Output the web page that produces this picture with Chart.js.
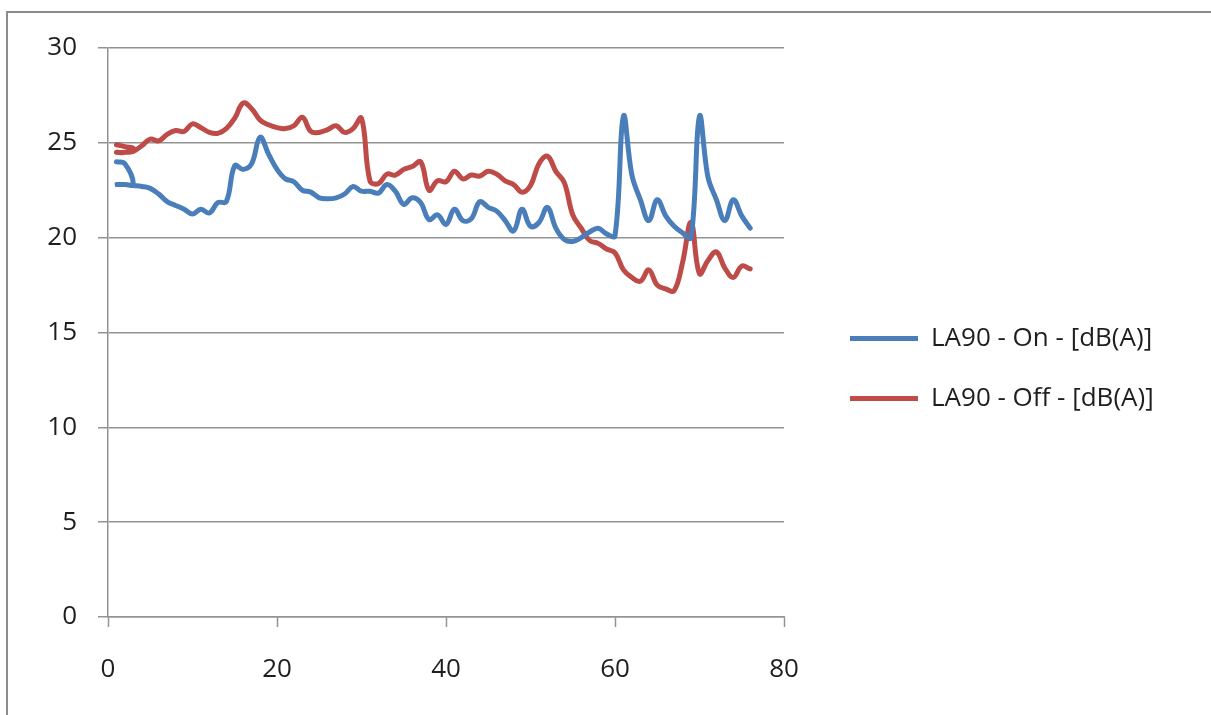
<!DOCTYPE html>
<html>
<head>
<meta charset="utf-8">
<title>LA90 On / Off</title>
<script src="https://cdn.jsdelivr.net/npm/chart.js@4"></script>
<style>
    html, body {
        margin: 0;
        padding: 0;
        background: #ffffff;
        overflow: hidden;
    }
    #frame {
        position: absolute;
        left: 6px;
        top: 11px;
        width: 1300px;
        height: 800px;
        border: 2px solid #8b8b8b;
    }
    #chart {
        position: absolute;
        left: 0;
        top: 0;
    }
</style>
</head>
<body>
<div id="frame"></div>
<canvas id="chart" width="1211" height="715"></canvas>
<script>
// sample index (the first few samples are logged twice, hence the back-and-forth)
const xOn = [1, 2, 3, 2, 1, 2, 3, 4, 5, 6, 7, 8, 9, 10,
    11, 12, 13, 14, 15, 16, 17, 18, 19, 20, 21, 22, 23, 24, 25, 26, 27, 28, 29, 30,
    31, 32, 33, 34, 35, 36, 37, 38, 39, 40, 41, 42, 43, 44, 45, 46, 47, 48, 49, 50,
    51, 52, 53, 54, 55, 56, 57, 58, 59, 60, 61, 62, 63, 64, 65, 66, 67, 68, 69, 70,
    71, 72, 73, 74, 75, 76];
const yOn = [24.0, 23.9, 22.8, 22.8, 22.8, 22.8, 22.75, 22.7, 22.6, 22.3, 21.9, 21.7, 21.5, 21.25,
    21.5, 21.3, 21.85, 21.9, 23.8, 23.6, 23.9, 25.3, 24.4, 23.6, 23.1, 22.95, 22.5, 22.4, 22.1, 22.05, 22.1, 22.3, 22.7, 22.45,
    22.45, 22.35, 22.8, 22.45, 21.75, 22.1, 21.85, 20.95, 21.2, 20.7, 21.5, 20.9, 21.0, 21.9, 21.6, 21.4, 20.9, 20.35, 21.5, 20.6,
    20.8, 21.6, 20.5, 19.9, 19.8, 20.0, 20.3, 20.5, 20.2, 20.1, 26.4, 23.3, 22.0, 20.9, 22.0, 21.15, 20.6, 20.25, 20.0, 26.4,
    23.2, 22.0, 20.9, 22.0, 21.15, 20.5];

const xOff = [1, 2, 3, 2, 1, 2, 3, 4, 5, 6, 7, 8, 9, 10,
    11, 12, 13, 14, 15, 16, 17, 18, 19, 20, 21, 22, 23, 24, 25, 26, 27, 28, 29, 30,
    31, 32, 33, 34, 35, 36, 37, 38, 39, 40, 41, 42, 43, 44, 45, 46, 47, 48, 49, 50,
    51, 52, 53, 54, 55, 56, 57, 58, 59, 60, 61, 62, 63, 64, 65, 66, 67, 68, 69, 70,
    71, 72, 73, 74, 75, 76];
const yOff = [24.9, 24.8, 24.7, 24.5, 24.5, 24.5, 24.55, 24.85, 25.2, 25.1, 25.45, 25.65, 25.6, 26.0,
    25.8, 25.55, 25.5, 25.75, 26.3, 27.1, 26.8, 26.2, 25.95, 25.8, 25.75, 25.9, 26.35, 25.6, 25.55, 25.7, 25.9, 25.55, 25.75, 26.3,
    23.0, 22.85, 23.35, 23.3, 23.6, 23.75, 24.0, 22.5, 23.0, 22.95, 23.5, 23.1, 23.3, 23.25, 23.5, 23.35, 23.0, 22.8, 22.4, 22.75,
    23.9, 24.3, 23.5, 22.9, 21.2, 20.5, 19.85, 19.7, 19.4, 19.2, 18.3, 17.9, 17.7, 18.3, 17.5, 17.3, 17.2, 18.7, 20.8, 18.1,
    18.8, 19.25, 18.4, 17.9, 18.5, 18.35];

const seriesNames = ['LA90 - On - [dB(A)]', 'LA90 - Off - [dB(A)]'];
const xTicks = [0, 20, 40, 60, 80];
const yTicks = [0, 5, 10, 15, 20, 25, 30];

const gridColor = '#939393';
const textColor = '#1e1e1e';

function toPoints(xs, ys) {
    return xs.map((x, i) => ({ x: x, y: ys[i] }));
}

// the legend sits a bit further right than Chart.js would put it,
// and may run to the canvas edge so the labels are not cut off
const legendOffset = {
    id: 'legendOffset',
    afterLayout(chart) {
        chart.legend.left += 32;
        chart.legend.right = chart.width;
        chart.legend.width = chart.legend.right - chart.legend.left;
    }
};

Chart.defaults.font.family = "'Open Sans', sans-serif";
Chart.defaults.color = textColor;

const ctx = document.getElementById('chart').getContext('2d');
new Chart(ctx, {
    type: 'line',
    data: {
        datasets: [{
            label: seriesNames[0],
            data: toPoints(xOn, yOn),
            borderColor: '#4a7ebb',
            backgroundColor: '#4a7ebb',
            borderWidth: 5,
            borderCapStyle: 'round',
            borderJoinStyle: 'round',
            pointRadius: 0,
            tension: 0.4
        }, {
            label: seriesNames[1],
            data: toPoints(xOff, yOff),
            borderColor: '#be4b48',
            backgroundColor: '#be4b48',
            borderWidth: 5,
            borderCapStyle: 'round',
            borderJoinStyle: 'round',
            pointRadius: 0,
            tension: 0.4
        }]
    },
    options: {
        responsive: false,
        animation: false,
        layout: {
            padding: { top: 48, right: 127, bottom: 26, left: 0 }
        },
        plugins: {
            legend: {
                position: 'right',
                align: 'center',
                maxWidth: 300,
                labels: {
                    usePointStyle: true,
                    pointStyle: 'line',
                    pointStyleWidth: 68,
                    padding: 34,
                    color: textColor,
                    font: { size: 26 }
                }
            },
            tooltip: { enabled: false }
        },
        scales: {
            x: {
                type: 'linear',
                min: xTicks[0],
                max: xTicks[xTicks.length - 1],
                afterFit(scale) {
                    scale.height = 72;
                },
                afterBuildTicks(scale) {
                    scale.ticks = xTicks.map(v => ({ value: v }));
                },
                grid: {
                    drawOnChartArea: false,
                    drawTicks: true,
                    tickLength: 10,
                    tickWidth: 1.5,
                    tickColor: gridColor
                },
                border: { display: true, color: gridColor, width: 1.5 },
                ticks: {
                    padding: 27,
                    color: textColor,
                    font: { size: 26 }
                }
            },
            y: {
                type: 'linear',
                min: yTicks[0],
                max: yTicks[yTicks.length - 1],
                afterFit(scale) {
                    scale.width = 108;
                },
                afterBuildTicks(scale) {
                    scale.ticks = yTicks.map(v => ({ value: v }));
                },
                grid: {
                    color: gridColor,
                    lineWidth: 1.5,
                    drawTicks: true,
                    tickLength: 10,
                    tickColor: gridColor
                },
                border: { display: true, color: gridColor, width: 1.5 },
                ticks: {
                    padding: 21,
                    color: textColor,
                    font: { size: 26 }
                }
            }
        }
    },
    plugins: [legendOffset]
});
</script>
</body>
</html>
